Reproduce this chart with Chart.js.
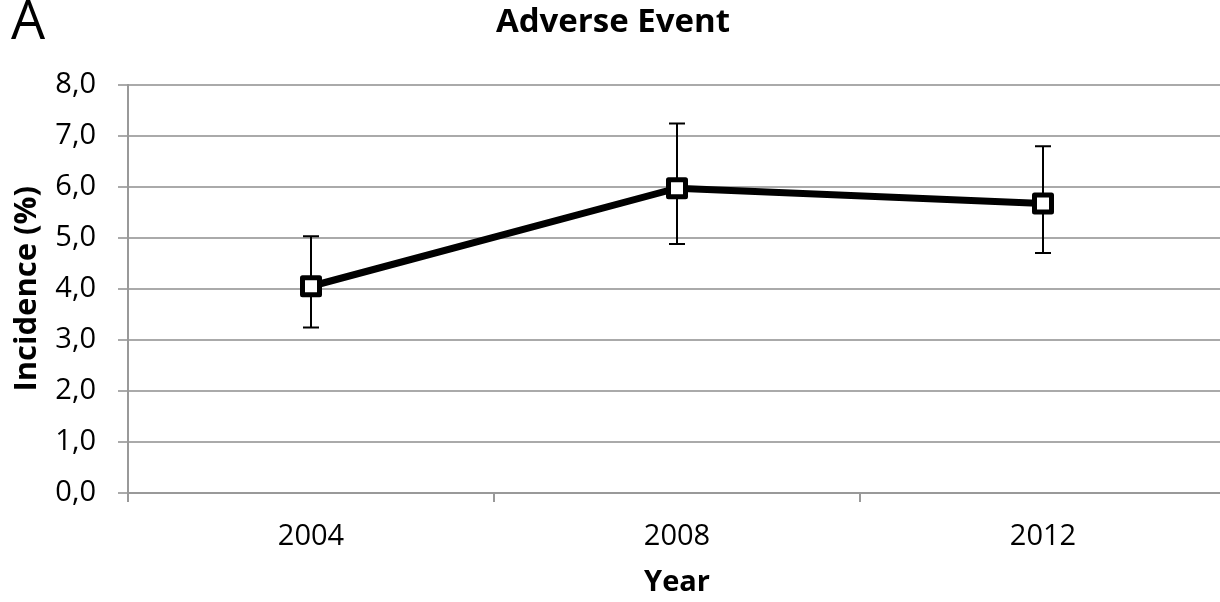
<!DOCTYPE html>
<html>
<head>
<meta charset="utf-8">
<script src="https://cdn.jsdelivr.net/npm/chart.js@4.4.1/dist/chart.umd.min.js"></script>
<style>
    html, body { margin: 0; padding: 0; overflow: hidden; background: #fff; }
    #wrap { position: relative; width: 1226px; height: 602px; }
    #aeChart { display: block; }
    #panel {
        position: absolute; left: 11px; top: -19px;
        font-family: "Open Sans", sans-serif; font-size: 54px; color: #000;
    }
</style>
</head>
<body>
<div id="wrap">
    <canvas id="aeChart" width="1226" height="602"></canvas>
    <div id="panel">A</div>
</div>
<script>
const years = ['2004', '2008', '2012'];
const incidence = [4.05, 5.97, 5.67];
const errHigh = [5.03, 7.24, 6.79];
const errLow = [3.24, 4.88, 4.70];
const yTickLabels = ['0,0', '1,0', '2,0', '3,0', '4,0', '5,0', '6,0', '7,0', '8,0'];

const FONT = '"Open Sans", sans-serif';

// whiskers go under the line and markers
const errorBars = {
    id: 'errorBars',
    beforeDatasetsDraw(chart) {
        const ctx = chart.ctx;
        const y = chart.scales.y;
        const meta = chart.getDatasetMeta(0);
        ctx.save();
        ctx.strokeStyle = '#000';
        ctx.lineWidth = 2;
        meta.data.forEach((pt, i) => {
            const top = y.getPixelForValue(errHigh[i]);
            const bot = y.getPixelForValue(errLow[i]);
            ctx.beginPath();
            ctx.moveTo(pt.x, top); ctx.lineTo(pt.x, bot);
            ctx.moveTo(pt.x - 8, top); ctx.lineTo(pt.x + 8, top);
            ctx.moveTo(pt.x - 8, bot); ctx.lineTo(pt.x + 8, bot);
            ctx.stroke();
        });
        ctx.restore();
        ctx.lineJoin = 'round';
    }
};

new Chart(document.getElementById('aeChart'), {
    type: 'line',
    data: {
        labels: years,
        datasets: [{
            label: 'Incidence',
            data: incidence,
            borderColor: '#000',
            borderWidth: 7,
            pointStyle: 'rect',
            pointRadius: 12,
            pointBorderWidth: 5,
            pointBackgroundColor: '#fff',
            pointBorderColor: '#000',
            tension: 0
        }]
    },
    options: {
        responsive: false,
        animation: false,
        layout: { padding: 0, autoPadding: false },
        plugins: {
            legend: { display: false },
            tooltip: { enabled: false },
            title: {
                display: true,
                text: 'Adverse Event',
                color: '#000',
                font: { family: FONT, size: 33, weight: 'bold', lineHeight: 1.2 },
                padding: { top: 3, bottom: 42 }
            }
        },
        scales: {
            x: {
                offset: true,
                afterFit: s => { s.height = 109; s.paddingLeft = 0; s.paddingRight = 0; },
                grid: { offset: true, drawOnChartArea: false, tickLength: 9, lineWidth: 2, color: '#999' },
                border: { color: '#999', width: 2 },
                ticks: { color: '#000', padding: 17, font: { family: FONT, size: 29 } },
                title: {
                    display: true, text: 'Year', color: '#000',
                    font: { family: FONT, size: 29, weight: 'bold', lineHeight: 1.2 },
                    padding: { top: 0, bottom: 2 }
                }
            },
            y: {
                min: 0,
                max: 8,
                afterFit: s => { s.width = 128; },
                grid: { lineWidth: 2, color: '#aaa', tickLength: 10 },
                border: { color: '#999', width: 2 },
                ticks: {
                    stepSize: 1,
                    color: '#000',
                    padding: 22,
                    font: { family: FONT, size: 29 },
                    callback: (v, i) => yTickLabels[i]
                },
                title: {
                    display: true, text: 'Incidence (%)', color: '#000',
                    font: { family: FONT, size: 31, weight: 'bold', lineHeight: 1.2 },
                    padding: { top: 9, bottom: 0 }
                }
            }
        }
    },
    plugins: [errorBars]
});
</script>
</body>
</html>
